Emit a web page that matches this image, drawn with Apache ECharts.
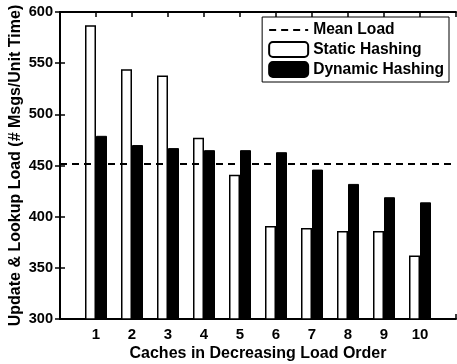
<!DOCTYPE html>
<html>
<head>
<meta charset="utf-8">
<script src="https://cdn.jsdelivr.net/npm/echarts@6/dist/echarts.min.js"></script>
<style>html,body{margin:0;padding:0;background:#fff}#c{width:457px;height:364px}</style>
</head>
<body>
<div id="c"></div>
<script>
const categories = [1, 2, 3, 4, 5, 6, 7, 8, 9, 10];
const staticLoad = [587, 544, 538, 477, 441, 391, 389, 386, 386, 362];
const dynamicLoad = [479, 470, 467, 465, 465, 463, 446, 432, 419, 414];
const meanLoad = 451.5;
const xMin = 0, xMax = 11;
const yTicks = [300, 350, 400, 450, 500, 550, 600];

const FONT = '"Liberation Sans", Arial, sans-serif';
const chart = echarts.init(document.getElementById('c'), null, {renderer: 'canvas'});
const axisLine = {show: true, lineStyle: {color: '#000', width: 2}};
const tickIn = {show: true, inside: true, length: 5, lineStyle: {color: '#000', width: 1.5}};
chart.setOption({
  animation: false,
  backgroundColor: '#fff',
  grid: {left: 60, right: 1, top: 12, bottom: 45, containLabel: false, outerBoundsMode: 'none'},
  legend: {
    orient: 'vertical', right: 8, top: 17,
    backgroundColor: '#fff', borderColor: '#000', borderWidth: 1, borderRadius: 0,
    padding: [5, 5, 4, 6], itemGap: 3, itemWidth: 39, itemHeight: 15,
    textStyle: {fontFamily: FONT, fontWeight: 'bold', fontSize: 15.6, lineHeight: 15, color: '#000'},
    data: [{name: 'Mean Load', itemStyle: {opacity: 0}}, 'Static Hashing', 'Dynamic Hashing']
  },
  xAxis: [{
    type: 'value', min: xMin, max: xMax, interval: 1, position: 'bottom',
    axisLine: axisLine, axisTick: tickIn, splitLine: {show: false},
    axisLabel: {fontFamily: FONT, fontWeight: 'bold', fontSize: 15, color: '#000', margin: 8,
      formatter: v => categories.indexOf(v) >= 0 ? String(v) : ''},
    name: 'Caches in Decreasing Load Order', nameLocation: 'middle', nameGap: 27,
    nameMoveOverlap: false,
    nameTextStyle: {fontFamily: FONT, fontWeight: 'bold', fontSize: 16, color: '#000'}
  }, {
    type: 'value', min: xMin, max: xMax, interval: 1, position: 'top',
    axisLine: axisLine, splitLine: {show: false}, axisLabel: {show: false},
    axisTick: {show: true, inside: true, length: 5, lineStyle: {color: '#000', width: 1.5}}
  }],
  yAxis: [{
    type: 'value', min: yTicks[0], max: yTicks[yTicks.length - 1], interval: 50,
    axisLine: axisLine, axisTick: tickIn, splitLine: {show: false},
    axisLabel: {fontFamily: FONT, fontWeight: 'bold', fontSize: 14.6, color: '#000', margin: 7},
    name: 'Update & Lookup Load (# Msgs/Unit Time)', nameLocation: 'middle', nameGap: 36,
    nameMoveOverlap: false,
    nameTextStyle: {fontFamily: FONT, fontWeight: 'bold', fontSize: 16, color: '#000'}
  }, {
    type: 'value', min: yTicks[0], max: yTicks[yTicks.length - 1], interval: 50, position: 'right',
    axisLine: axisLine, axisTick: tickIn, splitLine: {show: false}, axisLabel: {show: false}
  }],
  series: [{
    name: 'Mean Load', type: 'line', xAxisIndex: 0, yAxisIndex: 0,
    data: [[xMin, meanLoad], [xMax, meanLoad]], symbol: 'none', z: 5,
    lineStyle: {color: '#000', width: 2, type: [7, 5]}, itemStyle: {color: '#000'}
  }, {
    name: 'Static Hashing', type: 'bar', barWidth: 11, barGap: '0%',
    data: categories.map((c, i) => [c, staticLoad[i]]),
    itemStyle: {color: '#fff', borderColor: '#000', borderWidth: 1.5}
  }, {
    name: 'Dynamic Hashing', type: 'bar', barWidth: 11, barGap: '0%',
    data: categories.map((c, i) => [c, dynamicLoad[i]]),
    itemStyle: {color: '#000', borderColor: '#000', borderWidth: 1}
  }]
});
</script>
</body>
</html>
